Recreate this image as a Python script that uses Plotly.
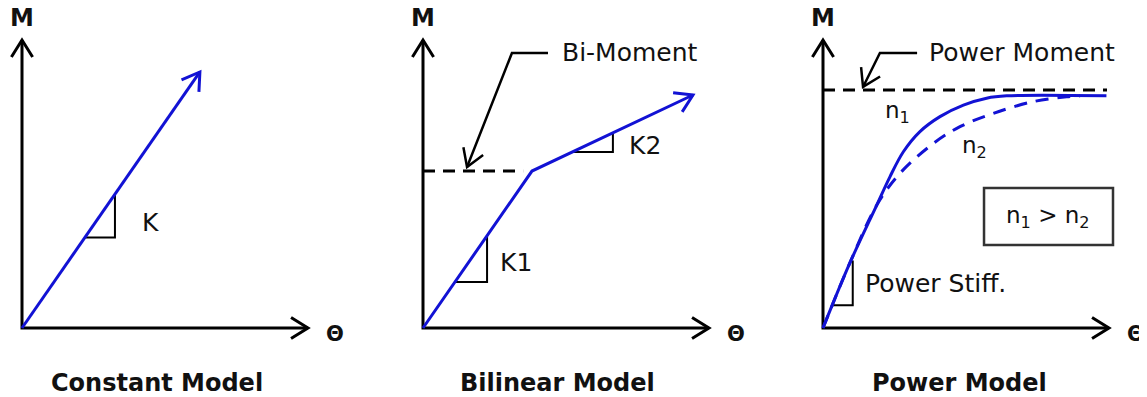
import math
import plotly.graph_objects as go

# ---- data (model units: theta axis 0..10, M axis 0..10) ----
axis_len = 10

# constant model
const_theta = [0, 6.22]
const_m = [0, 8.89]
const_tri_theta = [2.2, 3.25, 3.25]
const_tri_m = [3.14, 3.14, 4.65]

# bilinear model
bil_theta = [0, 3.81, 9.44]
bil_m = [0, 5.45, 8.09]
bi_moment = 5.45
bi_dash_end = 3.5
k1_tri_theta = [1.12, 2.24, 2.24]
k1_tri_m = [1.60, 1.60, 3.20]
k2_tri_theta = [5.21, 6.64, 6.64]
k2_tri_m = [6.11, 6.11, 6.78]
bi_leader_theta = [4.37, 3.11, 1.54]
bi_leader_m = [9.55, 9.55, 5.59]

# power model
pow_moment = 8.26
pow_dash_end = 9.93
n1_theta = [0, 0.94, 1.88, 2.34, 2.81, 3.39, 4.09, 4.91, 5.72, 6.42, 9.91]
n1_m = [0, 2.26, 4.27, 5.25, 6.12, 6.82, 7.34, 7.74, 7.98, 8.06, 8.06]
n2_theta = [0, 0.94, 1.88, 2.69, 3.86, 4.79, 5.95, 7.35, 8.52, 8.99]
n2_m = [0, 2.26, 4.27, 5.37, 6.41, 6.99, 7.45, 7.86, 8.03, 8.06]
ps_tri_theta = [0.35, 1.04, 1.04]
ps_tri_m = [0.79, 0.79, 2.34]
pm_leader_theta = [3.29, 1.99, 1.40]
pm_leader_m = [9.55, 9.55, 8.37]

titles = ["Constant Model", "Bilinear Model", "Power Model"]
title_theta = [4.72, 4.69, 4.79]

# ---- layout constants ----
W, H = 1147, 397
page_off = 8          # body margin of the html page
origins_px = [22, 423, 823]
oy_px = 328
sx, sy = 28.6, 28.8   # px per unit
BLUE = "#1212d4"
FONT = "DejaVu Sans"
TXT = "#111111"

fig = go.Figure()
axes = ["x", "x2", "x3"]


def line(ax, xs, ys, color="black", width=3, dash="solid", shape="linear"):
    fig.add_trace(go.Scatter(x=xs, y=ys, xaxis=ax, yaxis="y", mode="lines",
                             line=dict(color=color, width=width, dash=dash, shape=shape),
                             hoverinfo="skip", showlegend=False))


def chevron(ax, x0, y0, x1, y1, color="black", width=3, size=20, ang=32):
    # open arrow head at (x1, y1), pointing from (x0, y0)
    dx, dy = (x1 - x0) * sx, (y1 - y0) * sy
    a = math.atan2(dy, dx)
    xs, ys = [], []
    for s in (1, -1):
        b = a + math.pi - s * math.radians(ang)
        xs.append(x1 + size * math.cos(b) / sx)
        ys.append(y1 + size * math.sin(b) / sy)
    line(ax, [xs[0], x1, xs[1]], [ys[0], y1, ys[1]], color=color, width=width)


def text(ax, x, y, s, size=25, bold=False, anchor="left"):
    fig.add_annotation(x=x, y=y, xref=ax, yref="y", text=f"<b>{s}</b>" if bold else s,
                       showarrow=False, xanchor=anchor, yanchor="middle",
                       font=dict(family=FONT, size=size, color=TXT))


for i, ax in enumerate(axes):
    # axes with arrows
    line(ax, [0, 0, axis_len], [axis_len, 0, 0])
    chevron(ax, 0, 0, 0, axis_len)
    chevron(ax, 0, 0, axis_len, 0)
    text(ax, 0, 10.76, "M", size=24, bold=True, anchor="center")
    text(ax, 10.94, -0.2, "Θ", size=21, bold=True, anchor="center")
    text(ax, title_theta[i], -1.91, titles[i], size=24, bold=True, anchor="center")

# constant
line("x", const_tri_theta, const_tri_m, width=2)
line("x", const_theta, const_m, color=BLUE, width=3)
chevron("x", const_theta[0], const_m[0], const_theta[1], const_m[1], color=BLUE)
text("x", 4.13, 3.65, "K")

# bilinear
line("x2", [0, bi_dash_end], [bi_moment, bi_moment], width=3, dash="12px,8px")
line("x2", k1_tri_theta, k1_tri_m, width=2)
line("x2", k2_tri_theta, k2_tri_m, width=2)
line("x2", bil_theta, bil_m, color=BLUE, width=3)
chevron("x2", bil_theta[1], bil_m[1], bil_theta[2], bil_m[2], color=BLUE)
line("x2", bi_leader_theta, bi_leader_m, width=2.5)
chevron("x2", bi_leader_theta[1], bi_leader_m[1], bi_leader_theta[2], bi_leader_m[2], width=2.5)
text("x2", 4.79, 9.55, "Bi-Moment")
text("x2", 2.62, 2.29, "K1")
text("x2", 7.13, 6.32, "K2")

# power
line("x3", [0, pow_dash_end], [pow_moment, pow_moment], width=3, dash="12px,8px")
line("x3", ps_tri_theta, ps_tri_m, width=2)
line("x3", n2_theta, n2_m, color=BLUE, width=3, dash="13px,9px", shape="spline")
line("x3", n1_theta, n1_m, color=BLUE, width=3, shape="spline")
line("x3", pm_leader_theta, pm_leader_m, width=2.5)
chevron("x3", pm_leader_theta[1], pm_leader_m[1], pm_leader_theta[2], pm_leader_m[2], width=2.5)
text("x3", 3.64, 9.55, "Power Moment")
text("x3", 1.40, 1.56, "Power Stiff.")
text("x3", 2.62, 7.5, "n<sub>1</sub>", size=23, anchor="center")
text("x3", 5.31, 6.28, "n<sub>2</sub>", size=23, anchor="center")
fig.add_shape(type="rect", xref="x3", yref="y", x0=5.63, x1=10.14, y0=2.88, y1=4.86,
              line=dict(color="#333333", width=2.5))
text("x3", 7.88, 3.85, "n<sub>1</sub> > n<sub>2</sub>", size=23, anchor="center")

layout_axes = {}
for i, ax in enumerate(axes):
    ox = origins_px[i] - page_off
    key = "xaxis" if i == 0 else f"xaxis{i + 1}"
    cfg = dict(range=[-ox / sx, (W - ox) / sx], visible=False, fixedrange=True, anchor="y")
    if i > 0:
        cfg["overlaying"] = "x"
    layout_axes[key] = cfg

oy = oy_px - page_off
fig.update_layout(
    width=W, height=H, autosize=False,
    margin=dict(l=0, r=0, t=0, b=0),
    paper_bgcolor="white", plot_bgcolor="white",
    yaxis=dict(range=[-(H - oy) / sy, oy / sy], visible=False, fixedrange=True),
    **layout_axes,
)

fig.write_html("out.html")
